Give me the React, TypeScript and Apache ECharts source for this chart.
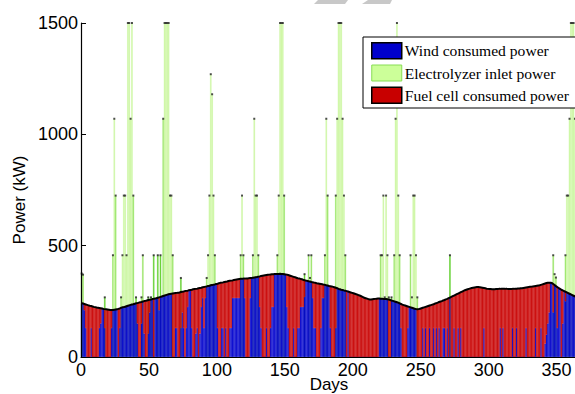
import React, { useEffect, useRef } from "react";
import * as echarts from "echarts";

// Day index (1..365)
const days: number[] = Array.from({ length: 365 }, (_, i) => i + 1);
const xTickValues = [0, 50, 100, 150, 200, 250, 300, 350];
const yTickValues = [0, 500, 1000, 1500];

// Total load (top of stacked wind + fuel cell), kW per day
const loadPower: number[] = [
  242, 240, 238, 236, 234, 232, 230, 229, 227, 225,
  224, 222, 221, 220, 219, 218, 216, 215, 214, 213,
  212, 211, 211, 211, 212, 213, 214, 216, 218, 221,
  223, 224, 226, 228, 230, 232, 234, 236, 237, 239,
  241, 242, 244, 246, 247, 249, 251, 252, 254, 256,
  257, 258, 260, 261, 263, 264, 266, 268, 270, 272,
  274, 276, 278, 280, 282, 283, 284, 285, 286, 287,
  288, 289, 290, 292, 293, 294, 296, 297, 298, 300,
  301, 302, 304, 305, 306, 307, 309, 310, 311, 313,
  314, 316, 317, 319, 320, 322, 323, 325, 326, 328,
  329, 331, 333, 334, 335, 337, 338, 339, 341, 342,
  343, 344, 346, 347, 348, 349, 350, 351, 351, 352,
  352, 353, 353, 354, 355, 355, 356, 357, 358, 359,
  361, 362, 364, 365, 366, 367, 368, 369, 370, 371,
  372, 372, 373, 373, 373, 373, 374, 373, 373, 372,
  371, 370, 368, 366, 364, 362, 360, 358, 356, 354,
  353, 351, 349, 347, 345, 343, 342, 340, 339, 337,
  336, 334, 333, 331, 330, 329, 328, 327, 325, 324,
  322, 321, 319, 318, 317, 315, 313, 311, 309, 306,
  304, 302, 301, 299, 298, 296, 294, 292, 290, 288,
  286, 284, 282, 280, 277, 275, 272, 269, 266, 264,
  262, 260, 258, 258, 259, 260, 261, 262, 263, 263,
  262, 262, 261, 261, 260, 259, 258, 256, 254, 252,
  250, 248, 246, 244, 241, 238, 235, 233, 231, 229,
  227, 225, 223, 221, 219, 217, 215, 214, 215, 217,
  219, 221, 223, 225, 227, 229, 231, 233, 235, 237,
  240, 242, 244, 247, 249, 251, 254, 256, 259, 261,
  264, 267, 270, 273, 276, 279, 282, 285, 288, 291,
  294, 297, 300, 302, 304, 306, 308, 310, 311, 312,
  313, 314, 314, 313, 312, 311, 310, 309, 307, 306,
  305, 305, 304, 304, 304, 305, 305, 306, 306, 307,
  307, 307, 306, 306, 305, 305, 305, 306, 306, 307,
  307, 308, 308, 309, 309, 310, 311, 312, 313, 314,
  315, 316, 317, 318, 319, 320, 321, 322, 324, 326,
  328, 330, 332, 333, 334, 334, 332, 328, 323, 318,
  314, 310, 306, 302, 299, 296, 293, 290, 287, 284,
  281, 278, 275, 272, 270,
];

// Wind consumed power, kW per day
const windPower: number[] = [
  242, 240, 210, 130, 0, 0, 0, 130, 0, 0,
  0, 0, 0, 130, 150, 218, 216, 130, 0, 0,
  0, 0, 130, 211, 212, 213, 214, 0, 130, 221,
  223, 224, 226, 228, 230, 232, 234, 236, 237, 239,
  241, 150, 0, 0, 150, 249, 105, 0, 0, 105,
  200, 258, 260, 0, 263, 264, 266, 210, 270, 272,
  274, 276, 278, 280, 282, 283, 284, 0, 0, 130,
  130, 0, 0, 130, 200, 130, 0, 130, 225, 300,
  301, 130, 0, 0, 105, 130, 0, 105, 225, 265,
  130, 265, 317, 319, 320, 322, 323, 325, 326, 328,
  130, 0, 0, 130, 130, 0, 130, 0, 0, 130,
  130, 265, 265, 265, 265, 265, 265, 351, 351, 352,
  265, 0, 0, 0, 265, 355, 356, 357, 358, 359,
  361, 225, 130, 0, 0, 0, 130, 0, 0, 130,
  225, 225, 373, 373, 373, 373, 374, 373, 373, 372,
  371, 225, 130, 0, 0, 0, 130, 0, 0, 130,
  130, 225, 225, 225, 270, 343, 342, 340, 339, 337,
  265, 130, 130, 0, 0, 0, 130, 265, 265, 324,
  322, 321, 319, 130, 0, 0, 0, 130, 309, 306,
  304, 302, 301, 299, 298, 0, 294, 0, 0, 0,
  0, 0, 0, 0, 0, 0, 0, 0, 0, 0,
  0, 0, 0, 0, 0, 0, 0, 0, 0, 263,
  262, 262, 261, 261, 260, 259, 0, 0, 254, 252,
  250, 248, 246, 244, 241, 130, 0, 0, 0, 0,
  130, 225, 223, 221, 219, 217, 215, 0, 0, 0,
  0, 130, 0, 130, 0, 0, 130, 0, 0, 130,
  0, 130, 0, 130, 0, 0, 130, 130, 0, 130,
  0, 267, 0, 0, 130, 0, 0, 130, 0, 130,
  0, 0, 0, 0, 0, 0, 0, 0, 0, 0,
  0, 0, 0, 0, 0, 0, 130, 0, 0, 0,
  0, 0, 0, 0, 0, 0, 0, 0, 130, 0,
  130, 0, 0, 0, 0, 0, 0, 130, 0, 0,
  130, 0, 0, 0, 0, 0, 0, 130, 0, 0,
  0, 0, 0, 0, 130, 0, 0, 0, 130, 0,
  0, 60, 100, 150, 200, 334, 332, 200, 323, 318,
  130, 310, 306, 0, 150, 296, 250, 290, 287, 284,
  281, 278, 275, 272, 270,
];

// Electrolyzer inlet power (top of green bar), kW per day
const electrolyzerPower: number[] = [
  375, 370, 0, 0, 0, 0, 0, 0, 0, 0,
  0, 0, 0, 0, 0, 0, 0, 268, 0, 0,
  0, 0, 0, 457, 1070, 725, 0, 0, 0, 268,
  457, 725, 725, 457, 1500, 1500, 1070, 1500, 725, 0,
  268, 0, 0, 0, 268, 457, 0, 0, 0, 268,
  0, 268, 0, 457, 0, 0, 457, 0, 457, 0,
  1070, 1500, 1500, 1500, 1500, 725, 725, 457, 0, 0,
  0, 0, 0, 355, 0, 0, 0, 0, 0, 0,
  0, 0, 0, 0, 0, 0, 0, 0, 0, 0,
  0, 0, 355, 457, 725, 1270, 1180, 725, 457, 0,
  0, 0, 0, 0, 0, 0, 0, 0, 0, 0,
  0, 0, 0, 0, 0, 0, 0, 457, 725, 457,
  0, 0, 0, 0, 0, 0, 457, 1070, 725, 725,
  457, 0, 0, 0, 0, 0, 0, 0, 0, 0,
  0, 0, 0, 0, 457, 725, 1500, 1500, 1500, 725,
  0, 0, 0, 0, 0, 0, 0, 0, 0, 0,
  0, 0, 0, 0, 372, 0, 0, 457, 355, 457,
  0, 0, 0, 0, 0, 0, 0, 0, 0, 457,
  1070, 725, 0, 0, 0, 0, 0, 725, 1070, 1500,
  1500, 1500, 1070, 725, 457, 0, 0, 0, 0, 0,
  0, 0, 0, 0, 0, 0, 0, 0, 0, 0,
  0, 0, 0, 0, 0, 0, 0, 0, 0, 0,
  457, 457, 725, 268, 725, 457, 268, 0, 268, 0,
  457, 1070, 1500, 725, 457, 0, 0, 0, 0, 0,
  0, 0, 457, 268, 725, 725, 457, 268, 0, 0,
  0, 0, 0, 0, 0, 0, 0, 0, 0, 0,
  0, 0, 0, 0, 0, 0, 0, 0, 0, 0,
  0, 457, 0, 0, 0, 0, 0, 0, 0, 0,
  0, 0, 0, 0, 0, 0, 0, 0, 0, 0,
  0, 0, 0, 0, 0, 0, 0, 0, 0, 0,
  0, 0, 0, 0, 0, 0, 0, 0, 0, 0,
  0, 0, 0, 0, 0, 0, 0, 0, 0, 0,
  0, 0, 0, 0, 0, 0, 0, 0, 0, 0,
  0, 0, 0, 0, 0, 0, 0, 0, 0, 0,
  0, 0, 0, 0, 0, 0, 0, 457, 372, 357,
  0, 0, 0, 0, 0, 0, 457, 725, 725, 1070,
  1500, 1500, 1500, 1070, 725,
];

const WIND = "Wind consumed power";
const ELEC = "Electrolyzer inlet power";
const FUEL = "Fuel cell consumed power";

const BLUE = "#0000cc";
const RED = "#c80000";
const GREEN_LIGHT = "#ccf7a2";
const GREEN_MID = "#98e464";
const GREEN_DARK = "#5fcf2a";
const AXIS_FONT = "'Liberation Sans', Arial, Helvetica, sans-serif";

export default function App() {
  const ref = useRef<HTMLDivElement>(null);

  useEffect(() => {
    if (!ref.current) return;
    const chart = echarts.init(ref.current, undefined, { renderer: "svg" });

    const fuelPower = loadPower.map((l, i) => Math.max(0, l - windPower[i]));

    const elecData = electrolyzerPower.map((v, i) => {
      if (!v) return { value: "-" as any };
      const prev = i > 0 && electrolyzerPower[i - 1] > loadPower[i - 1];
      const next = i < electrolyzerPower.length - 1 && electrolyzerPower[i + 1] > loadPower[i + 1];
      const c = prev && next ? GREEN_LIGHT : prev || next ? GREEN_MID : GREEN_DARK;
      return { value: v, itemStyle: { color: c, borderColor: c } };
    });

    const loadLine = loadPower.map((v, i) => [i + 0.5, v]);
    const elecDots = electrolyzerPower
      .map((v, i) => (v > loadPower[i] ? [i + 0.5, v] : null))
      .filter((p) => p) as number[][];

    const option: any = {
      animation: false,
      backgroundColor: "#fff",
      grid: { left: 81, top: 23, width: 496, height: 334, containLabel: false, outerBoundsMode: "none" },
      legend: {
        show: true,
        orient: "vertical",
        left: 363,
        top: 37,
        padding: [5, 7, 4, 8],
        itemWidth: 30,
        itemHeight: 16,
        itemGap: 5,
        backgroundColor: "#fff",
        borderColor: "#000",
        borderWidth: 1,
        borderRadius: 0,
        icon: "rect",
        z: 20,
        selectedMode: false,
        textStyle: { fontFamily: "'Liberation Serif', 'Times New Roman', serif", fontSize: 15.6, color: "#000", padding: [0, 0, 0, -2] },
        data: [
          { name: WIND, itemStyle: { color: BLUE, borderColor: "#000", borderWidth: 1.5 } },
          { name: ELEC, itemStyle: { color: "#ccff99", borderColor: "#88dd55", borderWidth: 1 } },
          { name: FUEL, itemStyle: { color: RED, borderColor: "#000", borderWidth: 1.5 } },
        ],
      },
      xAxis: [
        {
          type: "value",
          min: 0,
          max: 365,
          interval: 50,
          z: 10,
          axisLine: { show: true, onZero: false, lineStyle: { color: "#000", width: 1.2 } },
          axisTick: { show: false },
          splitLine: { show: false },
          axisLabel: {
            color: "#000",
            fontSize: 18,
            fontFamily: AXIS_FONT,
            margin: 4,
            showMaxLabel: false,
            formatter: (v: number) => (xTickValues.includes(v) ? String(v) : ""),
          },
          name: "Days",
          nameLocation: "middle",
          nameGap: 19,
          nameMoveOverlap: false,
          nameTextStyle: { color: "#000", fontSize: 17, fontFamily: AXIS_FONT, verticalAlign: "top" },
        },
        {
          type: "category",
          data: days.map(String),
          show: false,
          boundaryGap: true,
        },
      ],
      yAxis: {
        type: "value",
        min: 0,
        max: 1500,
        interval: 500,
        z: 10,
        axisLine: { show: true, lineStyle: { color: "#000", width: 1.2 } },
        axisTick: { show: true, inside: true, length: 5, lineStyle: { color: "#000" } },
        splitLine: { show: false },
        axisLabel: {
          color: "#000",
          fontSize: 18,
          fontFamily: AXIS_FONT,
          margin: 3,
          formatter: (v: number) => (yTickValues.includes(v) ? String(v) : ""),
        },
      },
      series: [
        {
          name: ELEC,
          type: "bar",
          xAxisIndex: 1,
          barWidth: "100%",
          barGap: "-100%",
          barCategoryGap: "0%",
          itemStyle: { color: "#ccff99", borderWidth: 0.5 },
          data: elecData,
          z: 1,
        },
        {
          name: WIND,
          type: "bar",
          stack: "load",
          xAxisIndex: 1,
          barWidth: "100%",
          barGap: "-100%",
          barCategoryGap: "0%",
          itemStyle: { color: BLUE, borderColor: BLUE, borderWidth: 0.5 },
          data: windPower,
          z: 2,
        },
        {
          name: FUEL,
          type: "bar",
          stack: "load",
          xAxisIndex: 1,
          barWidth: "100%",
          barGap: "-100%",
          barCategoryGap: "0%",
          itemStyle: { color: RED, borderColor: RED, borderWidth: 0.5 },
          data: fuelPower,
          z: 2,
        },
        {
          name: "Load",
          type: "line",
          xAxisIndex: 0,
          showSymbol: false,
          symbol: "none",
          lineStyle: { color: "#000", width: 2 },
          data: loadLine,
          z: 5,
        },
        {
          name: "Electrolyzer top",
          type: "scatter",
          xAxisIndex: 0,
          symbol: "rect",
          symbolSize: [2, 2],
          itemStyle: { color: "#222" },
          data: elecDots,
          z: 5,
        },
      ],
      graphic: [
        {
          type: "text",
          x: 19,
          y: 200,
          rotation: Math.PI / 2,
          style: {
            text: "Power (kW)",
            fontSize: 17,
            fontFamily: AXIS_FONT,
            fill: "#000",
            textAlign: "center",
            textVerticalAlign: "middle",
          },
        },
        {
          type: "polygon",
          shape: { points: [[318, 0], [348, 0], [345, 4], [314, 4]] },
          style: { fill: "#c8c8c8" },
        },
        {
          type: "polygon",
          shape: { points: [[368, 0], [392, 0], [390, 4], [362, 4]] },
          style: { fill: "#c8c8c8" },
        },
      ],
    };

    chart.setOption(option);
    return () => chart.dispose();
  }, []);

  return (
    <div
      ref={ref}
      style={{ position: "fixed", left: 0, top: 0, width: 575, height: 394, background: "#fff" }}
    />
  );
}
